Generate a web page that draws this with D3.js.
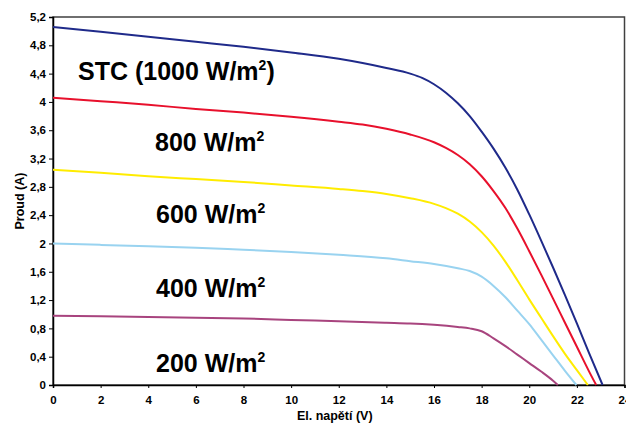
<!DOCTYPE html>
<html>
<head>
<meta charset="utf-8">
<script src="https://cdn.jsdelivr.net/npm/d3@7"></script>
<style>
html,body{margin:0;padding:0;background:#fff;}
svg{display:block;}
text{font-family:"Liberation Sans",Arial,sans-serif;}
</style>
</head>
<body>
<script>
// ---- data ----
const xTicks = [0,2,4,6,8,10,12,14,16,18,20,22,24];
const yTicks = [0,0.4,0.8,1.2,1.6,2,2.4,2.8,3.2,3.6,4,4.4,4.8,5.2];
const seriesNames = ["STC (1000 W/m", "800 W/m", "600 W/m", "400 W/m", "200 W/m"];

const v1000 = [0,2,4,6,8,10,12,13,14,15,15.5,16,16.5,17,17.5,18,18.5,19,19.5,20,20.5,21,21.5,22,22.5,23.08];
const i1000 = [5.06,4.99,4.92,4.85,4.78,4.70,4.61,4.55,4.48,4.40,4.34,4.25,4.13,3.98,3.80,3.58,3.34,3.07,2.76,2.41,2.04,1.66,1.27,0.87,0.46,0];

const v800 = [0,2,4,6,8,10,12,13,14,15,16,16.5,17,17.5,18,18.5,19,19.5,20,20.5,21,21.5,22,22.5,22.81];
const i800 = [4.06,4.01,3.96,3.90,3.85,3.79,3.72,3.68,3.62,3.54,3.43,3.35,3.25,3.12,2.95,2.74,2.50,2.21,1.89,1.56,1.22,0.88,0.54,0.20,0];

const v600 = [0,2,4,6,8,10,12,13,14,15,16,16.5,17,17.5,18,18.5,19,19.5,20,20.5,21,21.5,22,22.46];
const i600 = [3.04,3.00,2.95,2.91,2.87,2.82,2.77,2.74,2.70,2.64,2.56,2.50,2.42,2.31,2.16,1.97,1.74,1.48,1.21,0.95,0.69,0.44,0.21,0];

const v400 = [0,2,4,6,8,10,12,14,15,16,17,17.5,18,18.5,19,19.5,20,20.5,21,21.5,21.98];
const i400 = [2.00,1.98,1.96,1.94,1.91,1.88,1.84,1.79,1.75,1.71,1.65,1.61,1.53,1.40,1.24,1.05,0.86,0.64,0.42,0.20,0];

const v200 = [0,2,4,6,8,10,12,14,15,16,17,17.5,18,18.5,19,19.5,20,20.5,21,21.2];
const i200 = [0.98,0.97,0.96,0.95,0.94,0.92,0.90,0.88,0.87,0.85,0.82,0.80,0.76,0.66,0.55,0.43,0.31,0.19,0.06,0];

const colors = ["#1f2a8a","#e8102c","#ffec00","#99d3f0","#a8447e"];
const labelPos = [[78,80],[155,151],[156,223],[156,297],[156,372]];

// ---- chart ----
const W = 626, H = 426;
const L = 53, R = 624.5, T = 17, B = 385;
const svg = d3.select("body").append("svg").attr("width", W).attr("height", H);

const x = d3.scaleLinear().domain([0,24]).range([L,R]);
const y = d3.scaleLinear().domain([0,5.2]).range([B,T]);

// frame
svg.append("rect").attr("x",L).attr("y",T).attr("width",R-L).attr("height",B-T)
  .attr("fill","none").attr("stroke","#404040").attr("stroke-width",1.5);

// axes
const yAxis = d3.axisLeft(y).tickValues(yTicks).tickSize(4).tickPadding(3)
  .tickFormat(d => d3.format(".1~f")(d).replace(".", ","));
const gy = svg.append("g").attr("transform",`translate(${L},0)`).call(yAxis);
const xAxis = d3.axisBottom(x).tickValues(xTicks).tickSize(3).tickPadding(8)
  .tickFormat(d => d);
const gx = svg.append("g").attr("transform",`translate(0,${B})`).call(xAxis);
[gx,gy].forEach(g => {
  g.select(".domain").attr("stroke","#000").attr("stroke-width",1.5);
  g.selectAll(".tick line").attr("stroke","#000").attr("stroke-width",1);
  g.selectAll(".tick text").attr("font-size","11.5px").attr("font-weight","bold").attr("fill","#000")
    .attr("font-family",'"Liberation Sans",Arial,sans-serif');
});

// axis titles
svg.append("text").attr("x",(L+R)/2 - 4).attr("y",420).attr("text-anchor","middle")
  .attr("font-size","12.5px").attr("font-weight","bold").text("El. napětí (V)");
svg.append("text").attr("transform","translate(24,201) rotate(-90)").attr("text-anchor","middle")
  .attr("font-size","12.5px").attr("font-weight","bold").text("Proud (A)");

// lines
const vs = [v1000,v800,v600,v400,v200];
const is = [i1000,i800,i600,i400,i200];
const line = d3.line().x(d => x(d[0])).y(d => y(d[1])).curve(d3.curveMonotoneX);
vs.forEach((v,k) => {
  const pts = v.map((vv,j) => [vv, is[k][j]]);
  svg.append("path").attr("d", line(pts)).attr("fill","none")
    .attr("stroke", colors[k]).attr("stroke-width", 2);
});

// labels
seriesNames.forEach((s,k) => {
  const t = svg.append("text").attr("x",labelPos[k][0]).attr("y",labelPos[k][1])
    .attr("font-size","25px").attr("font-weight","bold").attr("fill","#000");
  t.append("tspan").text(s);
  t.append("tspan").attr("font-size","14px").attr("dy",-10).text("2");
  if (k === 0) t.append("tspan").attr("dy",10).text(")");
});
</script>
</body>
</html>
